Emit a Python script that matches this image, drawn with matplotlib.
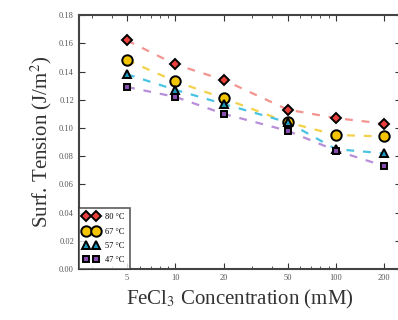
import matplotlib.pyplot as plt
from matplotlib.ticker import FixedLocator, FixedFormatter, NullFormatter

plt.rcParams['font.family'] = ['Liberation Serif', 'DejaVu Serif']
plt.rcParams['mathtext.fontset'] = 'stix'

conc = [5, 10, 20, 50, 100, 200]
t80 = [0.162, 0.145, 0.134, 0.113, 0.107, 0.103]
t67 = [0.148, 0.133, 0.121, 0.104, 0.095, 0.094]
t57 = [0.138, 0.127, 0.117, 0.104, 0.085, 0.082]
t47 = [0.129, 0.122, 0.110, 0.098, 0.084, 0.073]

labels = ["80 °C", "67 °C", "57 °C", "47 °C"]
series = [t80, t67, t57, t47]
mcolors = ["#e8403c", "#f2c500", "#1a9cc0", "#8a4fae"]
lcolors = ["#f29490", "#f2d24a", "#48c4e2", "#b88ed8"]
markers = ["D", "o", "^", "s"]
msizes = [5.5, 7.5, 6, 5]

fig = plt.figure(figsize=(3.98, 3.2), dpi=100)
ax = fig.add_axes([0.198, 0.159, 0.81, 0.794])

for y, lc in zip(series, lcolors):
    ax.plot(conc, y, linestyle=(0, (3.5, 4)), color=lc, lw=1.6, zorder=2)

handles = []
for y, mc, mk, ms, lab in zip(series, mcolors, markers, msizes, labels):
    h, = ax.plot(conc, y, linestyle="none", marker=mk, ms=ms, mfc=mc,
                 mec="black", mew=1.4, label=lab, zorder=3)
    handles.append(h)

ax.set_xscale("log")
ax.set_xlim(2.5, 255)
ax.set_ylim(0, 0.18)
ax.xaxis.set_major_locator(FixedLocator(conc))
ax.xaxis.set_major_formatter(FixedFormatter([str(c) for c in conc]))
ax.xaxis.set_minor_formatter(NullFormatter())
ax.set_yticks([i * 0.02 for i in range(10)])
ax.set_yticklabels(["%.2f" % (i * 0.02) for i in range(10)])

ax.tick_params(which="both", direction="in", top=True, right=True,
               labelsize=6, labelcolor="#555555", color="#333333")
ax.tick_params(which="major", length=4)
ax.tick_params(which="minor", length=2)
for s in ax.spines.values():
    s.set_linewidth(1.5)
    s.set_color("#444444")

ax.set_ylabel("Surf. Tension (J/m$^2$)", fontsize=15, color="#333333")
ax.set_xlabel("FeCl$_3$ Concentration (mM)", fontsize=15, color="#333333")

leg = ax.legend(handles=handles, loc="lower left", numpoints=2,
                prop={"size": 6}, frameon=True, fancybox=False,
                borderaxespad=0, handlelength=1.8, handletextpad=0.8,
                labelspacing=0.75, borderpad=0.6)
leg.get_frame().set_edgecolor("#333333")
leg.get_frame().set_linewidth(1.2)

fig.savefig("out.png", dpi=100)
